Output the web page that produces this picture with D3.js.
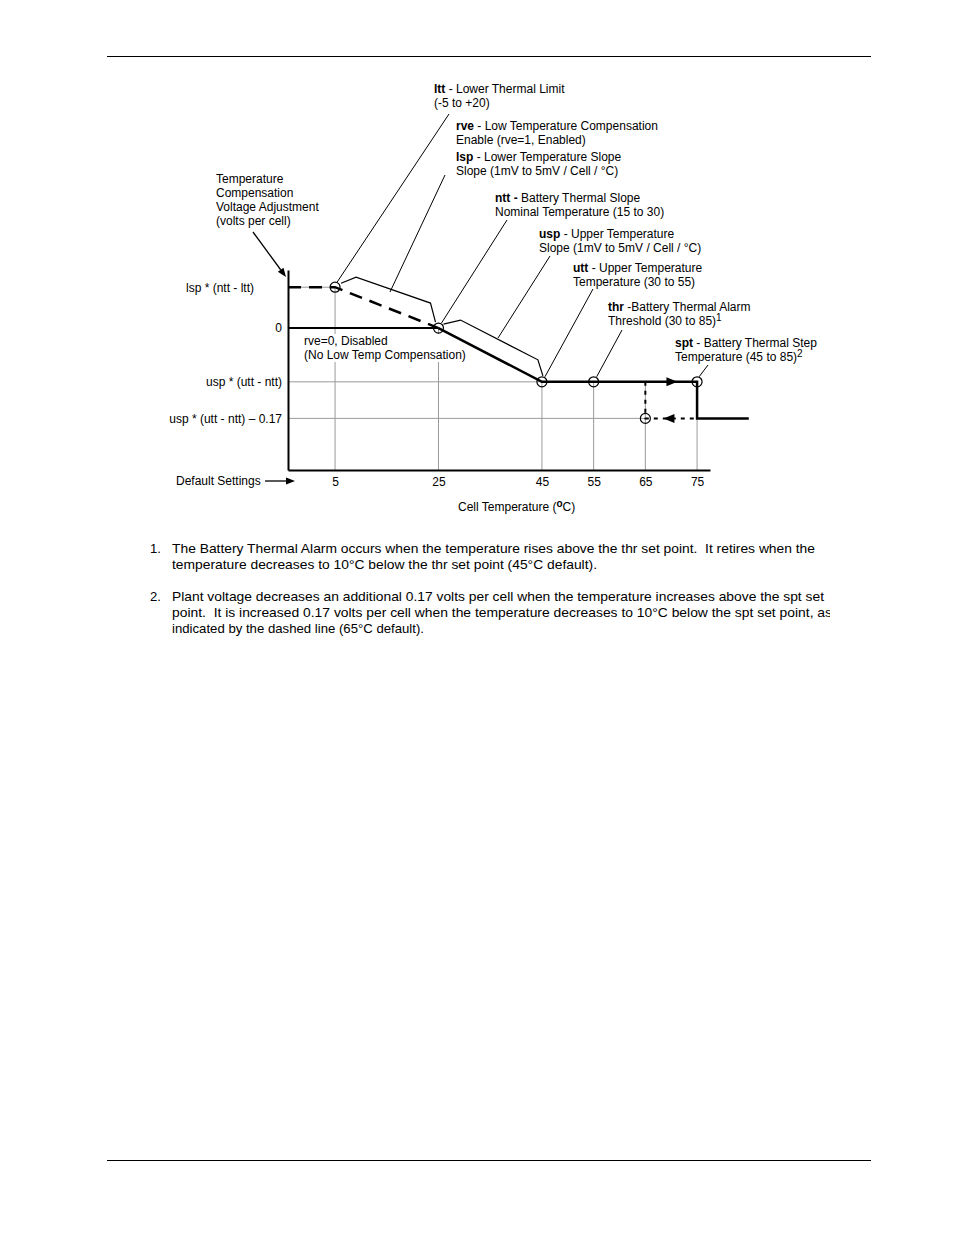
<!DOCTYPE html>
<html>
<head>
<meta charset="utf-8">
<script src="https://cdn.jsdelivr.net/npm/d3@7"></script>
<style>
  body { margin: 0; background: #fff; }
  svg { display: block; font-family: "Liberation Sans", Arial, sans-serif; }
  .lbl { font-size: 12px; fill: #000; }
  .note { font-size: 13px; font-family: "Liberation Sans Narrow", "Arial Narrow", "Liberation Sans", Arial, sans-serif; }
</style>
</head>
<body>
<svg width="954" height="1235"></svg>
<script>
// tick values along the temperature axis (default settings)
var xTicks = [5, 25, 45, 55, 65, 75];
// compensation levels (schematic, volts per cell)
var yLabels = ["lsp * (ntt - ltt)", "0", "usp * (utt - ntt)", "usp * (utt - ntt) \u2013 0.17"];
var yValues = [0.19, 0, -0.25, -0.42];

// curves
var enabledLine = [[-4.1, 0.19], [5, 0.19], [25, 0]];          // rve=1 (dashed)
var disabledLine = [[-4.1, 0], [25, 0]];                       // rve=0
var upperLine = [[25, 0], [45, -0.25], [75, -0.25], [75, -0.42], [85, -0.42]];
var returnLine = [[65, -0.25], [65, -0.42], [75, -0.42]];      // dashed return path
var setPoints = [[5, 0.19], [25, 0], [45, -0.25], [55, -0.25], [65, -0.42], [75, -0.25]];
var gridV = [[5, 0.19], [25, 0], [45, -0.25], [55, -0.25], [65, -0.25], [75, -0.25]];
var gridH = [[0.19, 5], [-0.25, 75], [-0.42, 65]];
var arrows = [[71.2, -0.25, 1], [68.5, -0.42, -1]];

var svg = d3.select("svg");

// page rules
svg.append("line").attr("x1", 107).attr("x2", 871).attr("y1", 56.5).attr("y2", 56.5).attr("stroke", "#000");
svg.append("line").attr("x1", 107).attr("x2", 871).attr("y1", 1160.5).attr("y2", 1160.5).attr("stroke", "#000");

var x = d3.scaleLinear().domain([-4.1, 77.5]).range([288, 710]);
var y = d3.scaleLinear().domain([-0.66, 0.27]).range([470, 270]);

var line = d3.line().x(d => x(d[0])).y(d => y(d[1]));

// annotation text helper
function block(xp, yp, lines, bg) {
  var g = svg.append("g");
  var t = g.append("text").attr("class", "lbl").attr("x", xp).attr("y", yp);
  lines.forEach(function (ln, i) {
    var row = t.append("tspan").attr("x", xp).attr("dy", i === 0 ? 0 : 14);
    ln.forEach(function (seg) {
      var s = row.append("tspan").text(seg.t);
      if (seg.b) s.attr("font-weight", "bold");
      if (seg.sup) { s.attr("font-size", 10).attr("dy", -4); }
    });
  });
  if (bg) {
    var bb = t.node().getBBox();
    g.insert("rect", "text").attr("x", bb.x - 2).attr("y", bb.y).attr("width", bb.width + 4)
      .attr("height", bb.height).attr("fill", "#fff");
  }
  return t;
}
function plain(s) { return [{t: s}]; }

// grid
svg.append("g").selectAll("line").data(gridV).enter().append("line")
  .attr("x1", d => x(d[0])).attr("x2", d => x(d[0]))
  .attr("y1", d => y(d[1])).attr("y2", y(-0.66))
  .attr("stroke", "#9a9a9a").attr("stroke-width", 1);
svg.append("g").selectAll("line").data(gridH).enter().append("line")
  .attr("x1", x(-4.1)).attr("x2", d => x(d[1]))
  .attr("y1", d => y(d[0])).attr("y2", d => y(d[0]))
  .attr("stroke", "#9a9a9a").attr("stroke-width", 1);

// label sitting over the grid, under the curves
block(304, 345, [plain("rve=0, Disabled"), plain("(No Low Temp Compensation)")], true);

// axes
var xAxis = svg.append("g")
  .attr("transform", "translate(0," + y(-0.66) + ")")
  .call(d3.axisBottom(x).tickValues(xTicks).tickSize(0).tickSizeOuter(0).tickPadding(7));
xAxis.select(".domain").attr("stroke-width", 2);
xAxis.selectAll("text").attr("font-size", 12).attr("font-family", "Liberation Sans, Arial");

var yAxis = svg.append("g")
  .attr("transform", "translate(" + x(-4.1) + ",0)")
  .call(d3.axisLeft(y).tickValues(yValues).tickFormat((d, i) => yLabels[i]).tickSize(0).tickSizeOuter(0).tickPadding(6));
yAxis.select(".domain").attr("stroke-width", 2);
yAxis.selectAll("text").attr("font-size", 12).attr("font-family", "Liberation Sans, Arial")
  .attr("dx", (d, i) => i === 0 ? -28 : 0);

// curves
svg.append("path").datum(disabledLine).attr("d", line)
  .attr("fill", "none").attr("stroke", "#000").attr("stroke-width", 2);
svg.append("path").datum(enabledLine).attr("d", line)
  .attr("fill", "none").attr("stroke", "#000").attr("stroke-width", 2.5).attr("stroke-dasharray", "13,8");
svg.append("path").datum(upperLine).attr("d", line)
  .attr("fill", "none").attr("stroke", "#000").attr("stroke-width", 2.5);
svg.append("path").datum(returnLine).attr("d", line)
  .attr("fill", "none").attr("stroke", "#000").attr("stroke-width", 2).attr("stroke-dasharray", "4,5");

svg.append("g").selectAll("path").data(arrows).enter().append("path")
  .attr("d", d => {
    var tx = x(d[0]), ty = y(d[1]), s = d[2];
    return "M" + tx + "," + ty + "L" + (tx - s * 11) + "," + (ty - 4.5) + "L" + (tx - s * 11) + "," + (ty + 4.5) + "Z";
  })
  .attr("fill", "#000");

svg.append("g").selectAll("circle").data(setPoints).enter().append("circle")
  .attr("cx", d => x(d[0])).attr("cy", d => y(d[1])).attr("r", 5)
  .attr("fill", "none").attr("stroke", "#000").attr("stroke-width", 1.2);

// slope brackets
var p5 = [x(5), y(0.19)], p25 = [x(25), y(0)], p45 = [x(45), y(-0.25)];
var brackets = [
  [[p5[0] + 6, p5[1] - 4], [p5[0] + 21, p5[1] - 10], [p25[0] - 8, p25[1] - 25], [p25[0] - 3, p25[1] - 6]],
  [[p25[0] + 5, p25[1] - 4], [p25[0] + 22, p25[1] - 8], [p45[0] - 4, p45[1] - 22], [p45[0] + 1, p45[1] - 6]]
];
svg.append("g").selectAll("path").data(brackets).enter().append("path")
  .attr("d", d3.line()).attr("fill", "none").attr("stroke", "#000").attr("stroke-width", 1.2);

// callout leaders
var callouts = [
  [[x(5) + 2, y(0.19) - 5], [449, 114]],
  [[390, 292], [445, 175]],
  [[x(25) + 3, y(0) - 5], [507, 220]],
  [[498, 338], [550, 256]],
  [[x(45) + 3, y(-0.25) - 5], [593, 289]],
  [[x(55) + 3, y(-0.25) - 5], [622, 330]],
  [[x(75) + 2, y(-0.25) - 5], [708, 365]]
];
svg.append("g").selectAll("line").data(callouts).enter().append("line")
  .attr("x1", d => d[0][0]).attr("y1", d => d[0][1])
  .attr("x2", d => d[1][0]).attr("y2", d => d[1][1])
  .attr("stroke", "#000").attr("stroke-width", 1);

block(434, 93, [[{t: "ltt", b: 1}, {t: " - Lower Thermal Limit"}], plain("(-5 to +20)")]);
block(456, 130, [[{t: "rve", b: 1}, {t: " - Low Temperature Compensation"}], plain("Enable (rve=1, Enabled)")]);
block(456, 161, [[{t: "lsp", b: 1}, {t: " - Lower Temperature Slope"}], plain("Slope (1mV to 5mV / Cell / \u00b0C)")]);
block(495, 202, [[{t: "ntt -", b: 1}, {t: " Battery Thermal Slope"}], plain("Nominal Temperature (15 to 30)")]);
block(539, 238, [[{t: "usp", b: 1}, {t: " - Upper Temperature"}], plain("Slope (1mV to 5mV / Cell / \u00b0C)")]);
block(573, 272, [[{t: "utt", b: 1}, {t: " - Upper Temperature"}], plain("Temperature (30 to 55)")]);
block(608, 311, [[{t: "thr", b: 1}, {t: " -Battery Thermal Alarm"}], [{t: "Threshold (30 to 85)"}, {t: "1", sup: 1}]]);
block(675, 347, [[{t: "spt", b: 1}, {t: " - Battery Thermal Step"}], [{t: "Temperature (45 to 85)"}, {t: "2", sup: 1}]]);
block(216, 183, [plain("Temperature"), plain("Compensation"), plain("Voltage Adjustment"), plain("(volts per cell)")]);

svg.append("text").attr("class", "lbl").attr("x", 176).attr("y", 485).text("Default Settings");
svg.append("text").attr("class", "lbl").attr("x", 458).attr("y", 511)
  .call(t => {
    t.append("tspan").text("Cell Temperature (");
    t.append("tspan").text("o").attr("font-weight", "bold").attr("font-size", 10).attr("dy", -4);
    t.append("tspan").text("C)").attr("dy", 4);
  });

// pointer arrows
var pointers = [[[253, 232], [286, 277]], [[265, 481], [295, 481]]];
pointers.forEach(function (p) {
  var a = p[0], b = p[1];
  var ang = Math.atan2(b[1] - a[1], b[0] - a[0]);
  var bx = b[0] - 9 * Math.cos(ang), by = b[1] - 9 * Math.sin(ang);
  svg.append("line").attr("x1", a[0]).attr("y1", a[1]).attr("x2", bx).attr("y2", by)
    .attr("stroke", "#000").attr("stroke-width", 1.3);
  var px = -Math.sin(ang) * 3.5, py = Math.cos(ang) * 3.5;
  svg.append("path")
    .attr("d", "M" + b[0] + "," + b[1] + "L" + (bx + px) + "," + (by + py) + "L" + (bx - px) + "," + (by - py) + "Z")
    .attr("fill", "#000");
});

// footnotes
var notes = [
  {n: "1.", y: 553, lines: [
    ["The Battery Thermal Alarm occurs when the temperature rises above the thr set point.  It retires when the", 643],
    ["temperature decreases to 10\u00b0C below the thr set point (45\u00b0C default).", 425]]},
  {n: "2.", y: 601, lines: [
    ["Plant voltage decreases an additional 0.17 volts per cell when the temperature increases above the spt set", 652],
    ["point.  It is increased 0.17 volts per cell when the temperature decreases to 10\u00b0C below the spt set point, as", 660],
    ["indicated by the dashed line (65\u00b0C default).", 252]]}
];
svg.append("clipPath").attr("id", "noteclip").append("rect")
  .attr("x", 140).attr("y", 530).attr("width", 690).attr("height", 120);
var ng = svg.append("g").attr("clip-path", "url(#noteclip)");
notes.forEach(function (nt) {
  ng.append("text").attr("class", "note").attr("x", 150).attr("y", nt.y).text(nt.n);
  nt.lines.forEach(function (ln, i) {
    ng.append("text").attr("class", "note").attr("x", 172).attr("y", nt.y + i * 16)
      .attr("textLength", ln[1]).attr("lengthAdjust", "spacingAndGlyphs")
      .style("white-space", "pre").text(ln[0]);
  });
});
</script>
</body>
</html>
